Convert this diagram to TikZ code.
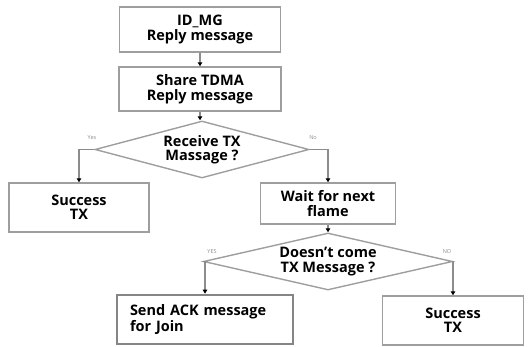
\documentclass[tikz,border=0pt]{standalone}
\usepackage{fontspec}
\setmainfont{Open Sans}
\usetikzlibrary{shapes.geometric}
\usetikzlibrary{arrows.meta}

\begin{document}
\begin{tikzpicture}[x=1pt, y=1pt,
		font=\fontsize{14.5}{14.5}\selectfont\bfseries,
		procbox/.style={draw=black!38, line width=1.4pt, align=center, inner sep=2pt},
		decbox/.style={diamond, draw=black!38, line width=1.4pt, align=center, inner sep=0pt},
		flow/.style={draw=black!45, line width=1.4pt, -{Triangle[length=4pt, width=4.5pt, color=black]}},
		branch/.style={font=\fontsize{5.5}{6}\selectfont, text=black!45}
	]
	\useasboundingbox (0,0) rectangle (529,347);
	\node[procbox, minimum width=161, minimum height=45] (idmg)   at (200,317.5) {ID\_MG\\Reply message};
	\node[procbox, minimum width=162, minimum height=44] (share)  at (200,258)   {Share TDMA\\Reply message};
	\node[decbox, aspect=3.75, minimum width=214, minimum height=57] (recv) at (202,197.5) {Receive TX\\Massage ?};
	\node[procbox, minimum width=140, minimum height=49] (succA)  at (79,139.5)  {Success\\TX};
	\node[procbox, minimum width=135, minimum height=41] (wait)   at (328,143.5) {Wait for next\\flame};
	\node[decbox, aspect=4.37, minimum width=249, minimum height=57] (nocome) at (328,85.5) {Doesn't come\\TX Message ?};
	\node[procbox, line width=2.6pt, draw=black!48, align=left, minimum width=176, minimum height=49,
		text width=150] (ack) at (205,27.5) {Send ACK message\\for Join};
	\node[procbox, minimum width=141, minimum height=49] (succB)  at (453,26.5)  {Success\\TX};
	\node[branch] (yesA) at (92,209)  {Yes};
	\node[branch] (noA)  at (313,209) {No};
	\node[branch] (yesB) at (212,95)  {YES};
	\node[branch] (noB)  at (447,95)  {NO};
	\draw[flow] (idmg) -- (share);
	\draw[flow] (share.south) -- (share.south |- recv.north);
	\draw[flow] (recv.west) -| (succA.north);
	\draw[flow] (recv.east) -| (wait.north);
	\draw[flow] (wait) -- (nocome);
	\draw[flow] (nocome.west) -| (ack.north);
	\draw[flow] (nocome.east) -| (succB.north);
\end{tikzpicture}
\end{document}
